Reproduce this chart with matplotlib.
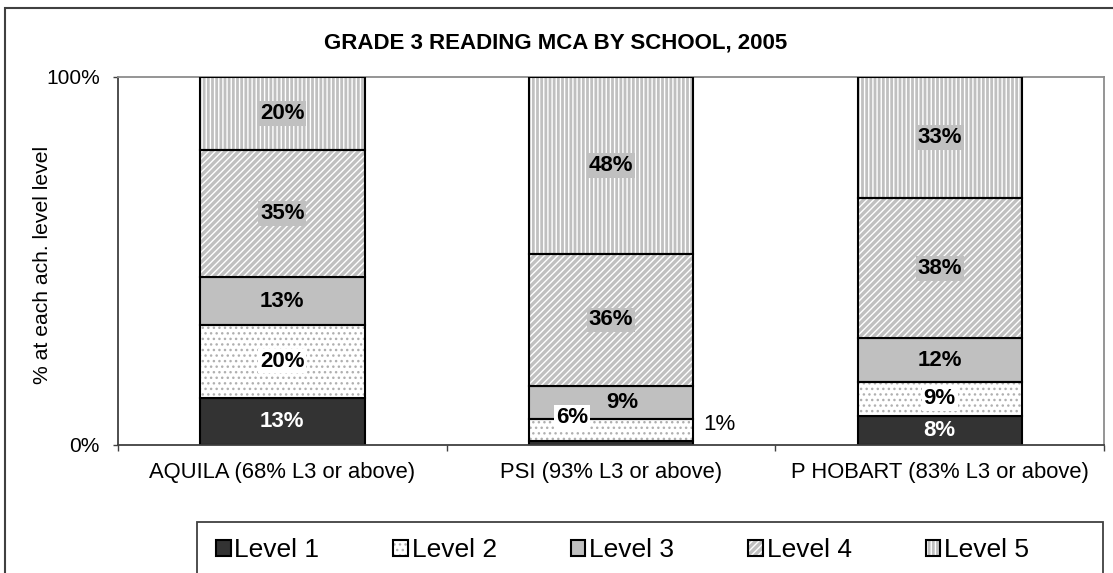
import matplotlib
matplotlib.use('Agg')
import matplotlib.pyplot as plt
from matplotlib.patches import Rectangle
from matplotlib.legend_handler import HandlerTuple
import numpy as np

plt.rcParams['font.family'] = ['Liberation Sans', 'DejaVu Sans']
plt.rcParams['hatch.linewidth'] = 1.0

# ---------------- data ----------------
schools = ["AQUILA (68% L3 or above)", "PSI (93% L3 or above)", "P HOBART (83% L3 or above)"]
levels = ["Level 1", "Level 2", "Level 3", "Level 4", "Level 5"]
level1 = [13, 1, 8]
level2 = [20, 6, 9]
level3 = [13, 9, 12]
level4 = [35, 36, 38]
level5 = [20, 48, 33]
title = "GRADE 3 READING MCA BY SCHOOL, 2005"
ylabel = "% at each ach. level level"
yticks = [0, 1]
yticklabels = ["0%", "100%"]

# ---------------- styles ----------------
faces = ['#333333', 'white', '#c0c0c0', '#c0c0c0', '#c0c0c0']
hatches = [None, '...', None, '/////', '||||']
hatchcols = [None, '#b0b0b0', None, 'white', 'white']
textcols = ['white', 'black', 'black', 'black', 'black']
# special label placements (level index, school index) -> pixel offsets, bold flag, bbox flag
special = {(0, 1): (108, 18.5, False, False),
           (1, 1): (-39, 13, True, True),
           (2, 1): (11, 0, True, True)}

W, H = 1113, 573
fig = plt.figure(figsize=(W / 100, H / 100), dpi=100)
ax = fig.add_axes([118 / W, 1 - 445 / H, (1104 - 118) / W, (445 - 77) / H])

data = np.array([level1, level2, level3, level4, level5], dtype=float)
frac = data / data.sum(axis=0)
x = np.arange(len(schools))
bottom = np.zeros(len(schools))
handles = []
for i in range(len(levels)):
    if hatches[i]:
        b1 = ax.bar(x, frac[i], 0.5, bottom=bottom, color=faces[i], edgecolor=hatchcols[i],
                    hatch=hatches[i], linewidth=0, zorder=2)
        b2 = ax.bar(x, frac[i], 0.5, bottom=bottom, fill=False, edgecolor='black',
                    linewidth=1.5, zorder=3)
        handles.append((b1[0], b2[0]))
    else:
        b = ax.bar(x, frac[i], 0.5, bottom=bottom, color=faces[i], edgecolor='black',
                   linewidth=1.5, zorder=2)
        handles.append(b[0])
    for j in range(len(schools)):
        cy = bottom[j] + frac[i][j] / 2
        dx, dy, bold, box = special.get((i, j), (0, 0, True, True))
        bbox = dict(boxstyle='square,pad=0.08', fc=faces[i], ec='none') if box else None
        ax.annotate(f"{int(data[i][j])}%", (x[j], cy), xytext=(dx, dy), textcoords='offset pixels',
                    ha='center', va='center', fontsize=16,
                    fontweight='bold' if bold else 'normal',
                    color=textcols[i] if box else 'black', bbox=bbox, zorder=5,
                    annotation_clip=False)
    bottom = bottom + frac[i]

ax.set_xlim(-0.5, 2.5)
ax.set_ylim(0, 1)
for s in ['left', 'bottom']:
    ax.spines[s].set_color('#404040')
    ax.spines[s].set_linewidth(1.3)
for s in ['top', 'right']:
    ax.spines[s].set_color('#8c8c8c')
    ax.spines[s].set_linewidth(1.3)
ax.set_yticks(yticks, yticklabels)
ax.tick_params(axis='y', length=3.6, width=1, color='#404040', pad=9.4, labelsize=15)
ax.set_xticks(x, schools)
ax.tick_params(axis='x', which='major', length=0, pad=12.5, labelsize=15.8)
ax.set_xticks([-0.5, 0.5, 1.5, 2.5], minor=True)
ax.tick_params(axis='x', which='minor', length=4.3, width=1, color='#404040')

fig.text(556 / W, 1 - 49 / H, title, ha='center', va='baseline', fontsize=16, fontweight='bold')
fig.text(43 / W, 1 - 265 / H, ylabel, ha='center', va='center', rotation=90, fontsize=15.2)

# outer chart frame
fig.add_artist(Rectangle((5 / W, -0.1), 1.2, 1 - 8 / H + 0.1, transform=fig.transFigure,
                         fill=False, edgecolor='#404040', linewidth=1.5))
# legend frame
fig.add_artist(Rectangle((197 / W, -0.1), (1103 - 197) / W, 1 - 522 / H + 0.1,
                         transform=fig.transFigure, fill=False, edgecolor='#404040', linewidth=1.3))
fig.legend(handles, levels, ncol=5, loc='center left', bbox_to_anchor=(216 / W, 1 - 550 / H),
           frameon=False, fontsize=19, handlelength=0.55, handleheight=0.55,
           handletextpad=0.15, columnspacing=2.8, borderpad=0, borderaxespad=0,
           handler_map={tuple: HandlerTuple(ndivide=1)})

fig.savefig('out.png', dpi=100)
